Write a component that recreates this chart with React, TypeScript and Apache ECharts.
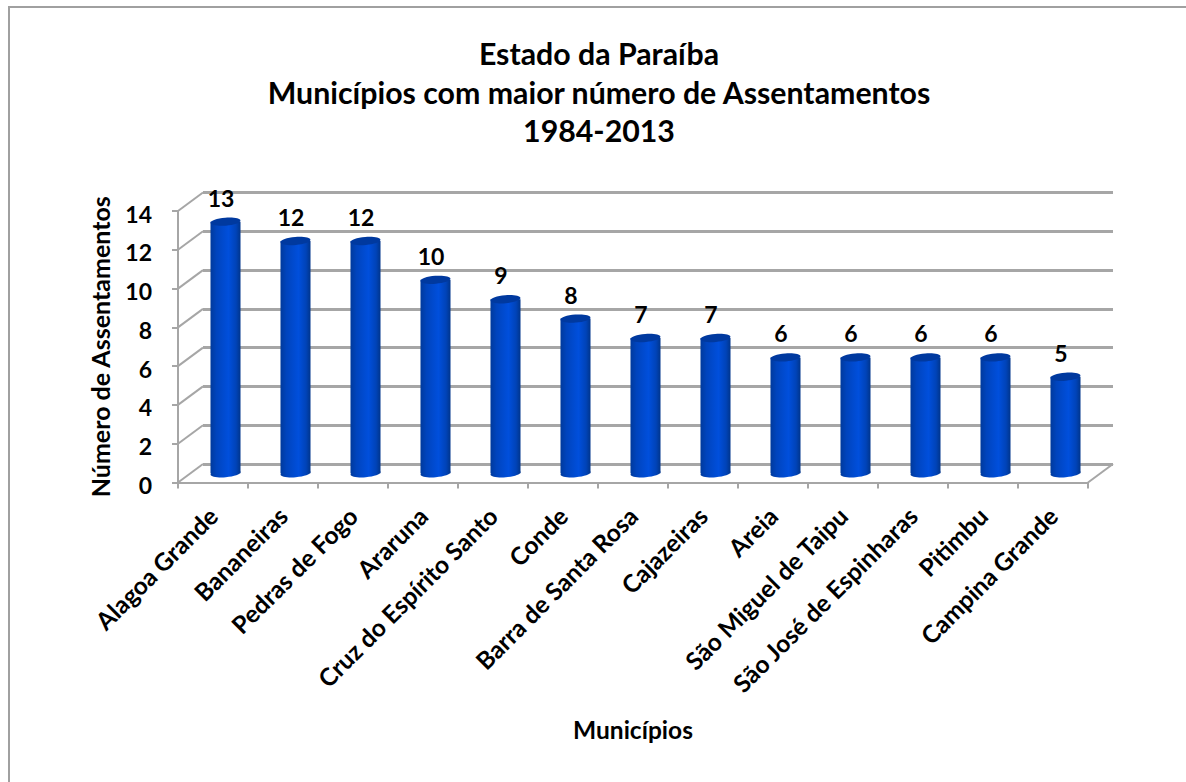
import React, { useEffect, useRef } from "react";
import * as echarts from "echarts";

const titleLines = ["Estado da Paraíba", "Municípios com maior número de Assentamentos", "1984-2013"];
const categories = ["Alagoa Grande", "Bananeiras", "Pedras de Fogo", "Araruna", "Cruz do Espírito Santo", "Conde", "Barra de Santa Rosa", "Cajazeiras", "Areia", "São Miguel de Taipu", "São José de Espinharas", "Pitimbu", "Campina Grande"];
const assentamentos = [13, 12, 12, 10, 9, 8, 7, 7, 6, 6, 6, 6, 5];
const gridTicks = [0, 2, 4, 6, 8, 10, 12, 14];
const yAxisName = "Número de Assentamentos";
const xAxisName = "Municípios";

const FONT = "Lato";
const GREY = "#a6a6a6";
const DEPTH_X = 25;
const DEPTH_Y = -18.5;

export default function App() {
  const ref = useRef<HTMLDivElement>(null);
  useEffect(() => {
    const chart = echarts.init(ref.current!, null, { renderer: "svg" });
    const bodyFill = new echarts.graphic.LinearGradient(0, 0, 1, 0, [
      { offset: 0, color: "#003a9c" },
      { offset: 0.2, color: "#0044bd" },
      { offset: 0.6, color: "#004fdc" },
      { offset: 0.85, color: "#0043b8" },
      { offset: 1, color: "#00358c" },
    ]);
    chart.setOption({
      animation: false,
      backgroundColor: "#ffffff",
      title: {
        text: titleLines.join("\n"),
        left: 594,
        top: 29,
        textAlign: "center",
        textStyle: { fontFamily: FONT, fontWeight: "bold", fontSize: 30.3, lineHeight: 38.5, color: "#000" },
      },
      graphic: [
        {
          type: "polyline",
          silent: true,
          shape: { points: [[9, 782], [9, 7], [1186, 7]] },
          style: { stroke: "#a0a0a0", lineWidth: 2, fill: "none" },
        },
      ],
      grid: [
        { left: 178, top: 211, width: 910, height: 271.5 },
        { left: 203, top: 192.5, width: 910, height: 271.5 },
      ],
      xAxis: [
        {
          type: "category",
          gridIndex: 0,
          data: categories,
          boundaryGap: true,
          name: xAxisName,
          nameLocation: "middle",
          nameGap: 234,
          nameTextStyle: { fontFamily: FONT, fontWeight: "bold", fontSize: 24.5, color: "#000" },
          axisLine: { show: true, lineStyle: { color: GREY, width: 2 } },
          axisTick: { show: true, length: 6, alignWithLabel: false, lineStyle: { color: GREY, width: 2 } },
          axisLabel: { interval: 0, rotate: 45, margin: 29, fontFamily: FONT, fontWeight: "bold", fontSize: 24.5, color: "#000" },
          splitLine: { show: false },
        },
        { type: "category", gridIndex: 1, data: categories, show: false },
      ],
      yAxis: [
        {
          type: "value",
          gridIndex: 0,
          min: 0,
          max: 14,
          interval: 2,
          name: yAxisName,
          nameLocation: "middle",
          nameGap: 66,
          nameRotate: 90,
          nameTextStyle: { fontFamily: FONT, fontWeight: "bold", fontSize: 25, color: "#000" },
          axisLine: { show: true, lineStyle: { color: GREY, width: 2 } },
          axisTick: { show: true, length: 6, lineStyle: { color: GREY, width: 2 } },
          axisLabel: { margin: 26, verticalAlign: "top", padding: [-9, 0, 0, 0], fontFamily: FONT, fontWeight: "bold", fontSize: 23, color: "#000" },
          splitLine: { show: false },
        },
        {
          type: "value",
          gridIndex: 1,
          min: 0,
          max: 14,
          interval: 2,
          axisLine: { show: false },
          axisTick: { show: false },
          axisLabel: { show: false },
          splitLine: { show: true, lineStyle: { color: GREY, width: 3 } },
        },
      ],
      series: [
        {
          type: "custom",
          name: "Paredes",
          xAxisIndex: 0,
          yAxisIndex: 0,
          coordinateSystem: "cartesian2d",
          silent: true,
          z: 1,
          data: gridTicks.map((t) => [0, t]),
          encode: { x: 0, y: 1 },
          renderItem: (params: any, api: any) => {
            const y = api.coord([0, api.value(1)])[1];
            const left = (params.coordSys as any).x;
            const right = left + (params.coordSys as any).width;
            const line = (x: number) => ({
              type: "line",
              shape: { x1: x, y1: y, x2: x + DEPTH_X, y2: y + DEPTH_Y },
              style: { stroke: GREY, lineWidth: 2 },
            });
            const children: any[] = [line(left)];
            if (api.value(1) === 0) children.push(line(right));
            return { type: "group", children };
          },
        },
        {
          type: "custom",
          name: "Assentamentos",
          xAxisIndex: 0,
          yAxisIndex: 0,
          coordinateSystem: "cartesian2d",
          z: 3,
          data: categories.map((c, i) => [i, assentamentos[i]]),
          encode: { x: 0, y: 1 },
          renderItem: (_params: any, api: any) => {
            const top = api.coord([api.value(0), api.value(1)]);
            const base = api.coord([api.value(0), 0]);
            const cx = top[0] + DEPTH_X / 2;
            const yTop = top[1] + DEPTH_Y / 2 + 0.5;
            const yBase = base[1] + DEPTH_Y / 2;
            const rx = 15;
            const ry = 4;
            return {
              type: "group",
              children: [
                {
                  type: "ellipse",
                  x: cx,
                  y: yBase,
                  rotation: 0.08,
                  shape: { cx: 0, cy: 0, rx, ry },
                  style: { fill: bodyFill },
                },
                {
                  type: "rect",
                  shape: { x: cx - rx, y: yTop, width: rx * 2, height: yBase - yTop },
                  style: { fill: bodyFill },
                },
                {
                  type: "ellipse",
                  x: cx,
                  y: yTop,
                  rotation: 0.08,
                  shape: { cx: 0, cy: 0, rx, ry },
                  style: { fill: "#00399f" },
                },
                {
                  type: "text",
                  x: cx - 4.5,
                  y: yTop - 24,
                  style: {
                    text: String(api.value(1)),
                    fontFamily: FONT,
                    fontWeight: "bold",
                    fontSize: 23,
                    fill: "#000",
                    align: "center",
                    verticalAlign: "middle",
                  },
                },
              ],
            };
          },
        },
      ],
    });
    return () => chart.dispose();
  }, []);
  return <div ref={ref} style={{ position: "absolute", left: 0, top: 0, width: 1186, height: 782 }} />;
}
